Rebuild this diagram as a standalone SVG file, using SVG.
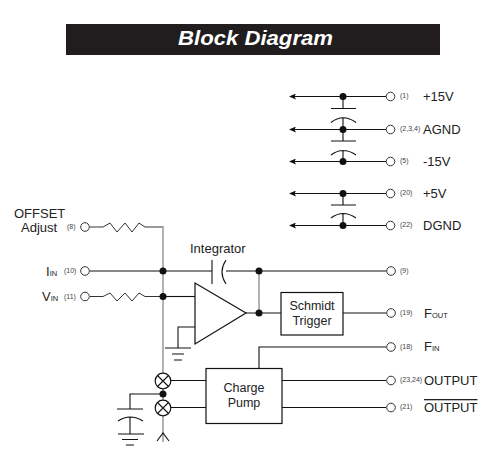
<svg xmlns="http://www.w3.org/2000/svg" width="498" height="456" viewBox="0 0 498 456">
<defs>
<style>
text{font-family:"Liberation Sans",Arial,sans-serif;fill:#222}
.l{font-size:13px}
.k{font-size:12.500px}
.s{font-size:7.5px}
.p{font-size:7px;fill:#444}
.w{fill:none;stroke:#111;stroke-width:1.1}
.r{fill:none;stroke:#333;stroke-width:1}
.g{fill:none;stroke:#a0a0a0;stroke-width:1.6}
.b{fill:#fff;stroke:#111;stroke-width:1.2}
.o{fill:#fff;stroke:#333;stroke-width:1}
.d{fill:#111}
.m{text-anchor:middle}
</style>
<marker id="ah" markerWidth="7" markerHeight="6" refX="1" refY="3" orient="auto" markerUnits="userSpaceOnUse"><path d="M7 0L0 3L7 6L5.5 3Z" fill="#111"/></marker>
<g id="pin"><circle class="o" r="4.3"/></g>
<g id="dot"><circle class="d" r="3.5"/></g>
</defs>
<rect width="498" height="456" fill="#fff"/>
<g id="title"><rect x="66" y="24" width="374" height="31" fill="#211d1e"/><text x="255.500" y="45" text-anchor="middle" font-size="20" font-weight="bold" font-style="italic" style="fill:#fff" textLength="155" lengthAdjust="spacingAndGlyphs">Block Diagram</text></g>
<g id="connectors">
<path class="w" d="M290 96.500H386" marker-start="url(#ah)"/>
<path class="w" d="M290 129.500H386" marker-start="url(#ah)"/>
<path class="w" d="M290 161.500H386" marker-start="url(#ah)"/>
<path class="w" d="M290 193.500H386" marker-start="url(#ah)"/>
<path class="w" d="M290 225.500H386" marker-start="url(#ah)"/>
<path class="w" d="M343 96.500V108.500M331 108.500H356M331 122.500Q343 113 356 122.500M343 117.500V141M331 141H356M331 155Q343 146 356 155M343 150V161.500M343 193.500V205M331 205H356M331 218Q343 209 356 218M343 214V225.500"/>
<path class="r" d="M90 227H103L110 223L117 232L125 223L132 232L139 223L145 227H163"/>
<path class="r" d="M90 296.500H103L110 293L117 301L125 293L132 301L139 293L145 296.500H163"/>
<path class="w" d="M163 296.500H195"/>
<path class="g" d="M163 226V373M163 389V400M163 416V442"/>
<path class="w" d="M90 271H212M212 260V284M226 260Q218 272 226 284M226 271H386"/>
<path class="g" d="M259 271V313"/>
<path class="w" d="M246 313H281M343 313H386M259 368V347H386M282 380.500H386M282 407.500H386"/>
<path class="w" d="M195 327H178V348M165 348H191M172 354H184M174 360H182"/>
<path class="w" d="M171 380.500H206M171 407.500H206M163 394H130V409M117 409H143M118 421Q130 413 143 421M130 417V434M118 434H144M122 439.500H138M126 445H134M157 441L163 433L169 441"/>
</g>
<g id="supply-pins">
<use href="#dot" x="343" y="96.500"/><use href="#dot" x="343" y="129.500"/><use href="#dot" x="343" y="161.500"/><use href="#dot" x="343" y="193.500"/><use href="#dot" x="343" y="225.500"/>
<use href="#pin" x="390.500" y="96.500"/><use href="#pin" x="390.500" y="129.500"/><use href="#pin" x="390.500" y="161.500"/><use href="#pin" x="390.500" y="193.500"/><use href="#pin" x="390.500" y="225.500"/>
<text class="p" x="400" y="98">(1)</text><text class="p" x="400" y="131">(2,3,4)</text><text class="p" x="400" y="163">(5)</text><text class="p" x="400" y="195">(20)</text><text class="p" x="400" y="227">(22)</text>
<text class="l" x="423" y="101">+15V</text><text class="l" x="423" y="134">AGND</text><text class="l" x="423" y="166">-15V</text><text class="l" x="423" y="198">+5V</text><text class="l" x="423" y="230">DGND</text>
</g>
<g id="input-pins">
<use href="#pin" x="85" y="227"/><use href="#pin" x="85" y="271"/><use href="#pin" x="85" y="296.500"/>
<text class="l" x="14" y="218">OFFSET<tspan x="21" dy="14">Adjust</tspan></text>
<text class="p" x="67" y="229">(8)</text><text class="p" x="64" y="273">(10)</text><text class="p" x="64" y="299">(11)</text>
<text class="l" x="46" y="276">I<tspan class="s">IN</tspan></text><text class="l" x="42" y="301">V<tspan class="s">IN</tspan></text>
<use href="#dot" x="163" y="271"/><use href="#dot" x="163" y="296.500"/>
</g>
<g id="integrator"><text class="l" x="190" y="253">Integrator</text><use href="#dot" x="259" y="271"/></g>
<g id="amplifier"><path class="b" d="M195 283V344L246 313Z"/><use href="#dot" x="259" y="313"/></g>
<g id="schmidt"><rect class="b" x="281" y="292.500" width="62" height="42.500"/><text class="k m" y="310"><tspan x="312">Schmidt</tspan><tspan x="312" dy="14.500">Trigger</tspan></text></g>
<g id="charge-pump"><rect class="b" x="206" y="368.500" width="76" height="55"/><text class="k m" y="392"><tspan x="244">Charge</tspan><tspan x="244" dy="14.500">Pump</tspan></text></g>
<g id="switches">
<g id="sw1"><circle class="b" cx="163" cy="381" r="7.800"/><path class="w" d="M157.500 375.500L168.500 386.500M168.500 375.500L157.500 386.500"/></g>
<g id="sw2"><circle class="b" cx="163" cy="408" r="7.800"/><path class="w" d="M157.500 402.500L168.500 413.500M168.500 402.500L157.500 413.500"/></g>
<use href="#dot" x="163" y="394"/>
</g>
<g id="output-pins">
<use href="#pin" x="391" y="271"/><use href="#pin" x="391" y="313"/><use href="#pin" x="391" y="347"/><use href="#pin" x="391" y="380.500"/><use href="#pin" x="391" y="407.500"/>
<text class="p" x="400" y="273">(9)</text><text class="p" x="400" y="315">(19)</text><text class="p" x="400" y="349">(18)</text><text class="p" x="400" y="382">(23,24)</text><text class="p" x="400" y="409">(21)</text>
<text class="l" x="424" y="318">F<tspan class="s">OUT</tspan></text><text class="l" x="424" y="351">F<tspan class="s">IN</tspan></text><text class="l" x="424" y="385">OUTPUT</text><text class="l" x="424" y="412" text-decoration="overline">OUTPUT</text>
</g>
</svg>
